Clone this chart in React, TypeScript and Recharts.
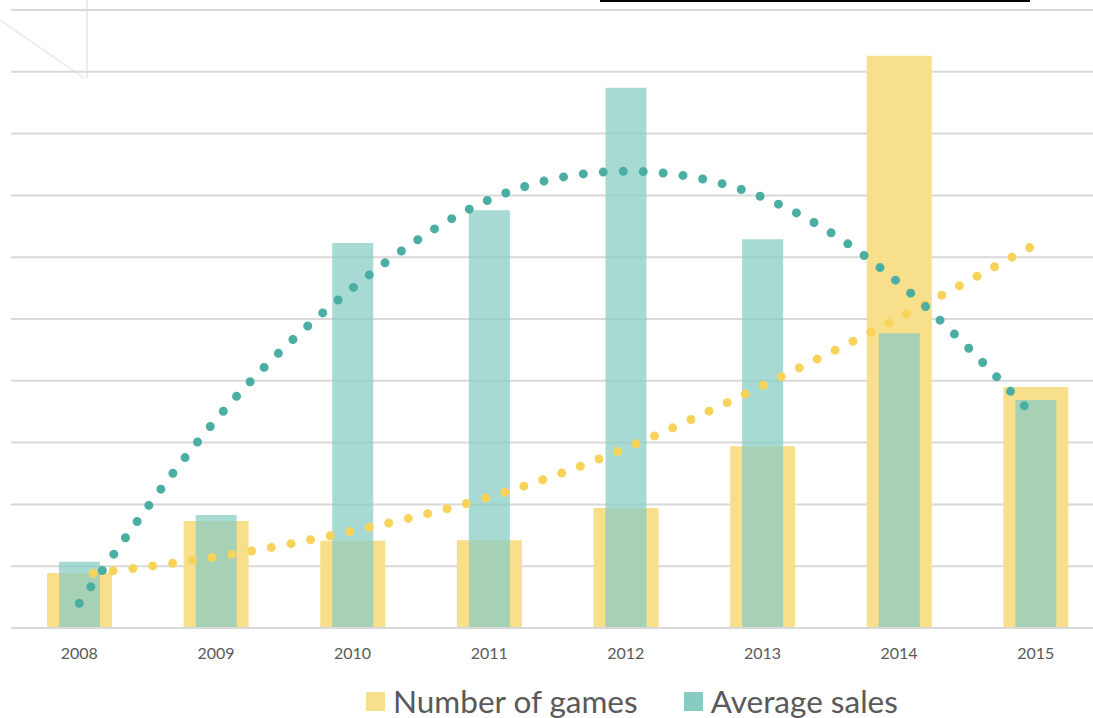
import React from "react"
import {
  ComposedChart,
  Bar,
  Line,
  XAxis,
  YAxis,
  CartesianGrid,
} from "recharts"

// chart values (one gridline = 1 unit)
const years = ["2008", "2009", "2010", "2011", "2012", "2013", "2014", "2015"]
const numberOfGames = [0.89, 1.73, 1.41, 1.42, 1.94, 2.94, 9.26, 3.9]
const averageSales = [1.07, 1.83, 6.23, 6.76, 8.74, 6.29, 4.77, 3.69]
const gamesTrend = [0.86, 1.15, 1.57, 2.12, 2.91, 3.92, 5.02, 6.21]
const salesTrend = [0.4, 3.37, 5.5, 6.93, 7.39, 6.97, 5.58, 3.4]
const yTicks = [0, 1, 2, 3, 4, 5, 6, 7, 8, 9, 10]

const YELLOW = "#F8DF8B"
const TEAL = "#86CCC3"
const TEAL_DOT = "#4BAEA3"
const YELLOW_DOT = "#F8D35A"
const FONT = "Lato, 'Noto Sans', sans-serif"

const data = years.map((year, i) => ({
  year,
  games: numberOfGames[i],
  sales: averageSales[i],
  gamesTrend: gamesTrend[i],
  salesTrend: salesTrend[i],
}))

const legendItems = [
  { label: "Number of games", color: YELLOW },
  { label: "Average sales", color: TEAL },
]

function ChartLegend() {
  return (
    <div
      style={{
        position: "absolute",
        left: 366,
        top: 682,
        display: "flex",
        alignItems: "center",
        fontFamily: FONT,
        whiteSpace: "nowrap",
      }}
    >
      {legendItems.map((item, i) => (
        <div
          key={item.label}
          style={{ display: "flex", alignItems: "center", marginLeft: i === 0 ? 0 : 46 }}
        >
          <span
            style={{ width: 19, height: 19, background: item.color, display: "inline-block", marginRight: 8 }}
          />
          <span style={{ fontSize: 31.5, color: "#595959", lineHeight: "38px" }}>{item.label}</span>
        </div>
      ))}
    </div>
  )
}

export default function App() {
  return (
    <div
      style={{
        position: "absolute",
        left: 0,
        top: 0,
        width: 1093,
        height: 718,
        overflow: "hidden",
        background: "#fff",
      }}
    >
      {/* faint decoration at top-left */}
      <svg width={120} height={100} style={{ position: "absolute", left: 0, top: 0 }}>
        <line x1={0} y1={20} x2={84} y2={78} stroke="#EDEDED" strokeWidth={2} />
        <line x1={87} y1={0} x2={87} y2={78} stroke="#EDEDED" strokeWidth={2} />
      </svg>

      {/* title, mostly cut off above the page */}
      <div
        style={{
          position: "absolute",
          right: 496,
          top: -29,
          fontFamily: "'Liberation Sans', sans-serif",
          fontSize: 26,
          color: "#000",
          whiteSpace: "nowrap",
          lineHeight: "30px",
        }}
      >
        Number of games, sales per year for strategy
      </div>
      <div
        style={{
          position: "absolute",
          left: 600,
          top: 0,
          width: 430,
          height: 0,
          borderTop: "2px solid #000",
        }}
      />

      <ComposedChart
        width={1104}
        height={718}
        data={data}
        margin={{ top: 10, right: 0, bottom: 60, left: 11 }}
        style={{ position: "absolute", left: 0, top: 0 }}
      >
        <CartesianGrid vertical={false} stroke="#D9D9D9" strokeWidth={2} />
        <XAxis
          dataKey="year"
          xAxisId="games"
          height={30}
          axisLine={{ stroke: "#D9D9D9", strokeWidth: 2 }}
          tickLine={false}
          tick={{ fill: "#595959", fontSize: 16, fontFamily: FONT }}
          tickMargin={14}
        />
        <XAxis dataKey="year" xAxisId="sales" hide />
        <YAxis domain={[0, 10]} ticks={yTicks} hide />
        <Bar
          dataKey="games"
          xAxisId="games"
          fill={YELLOW}
          barSize={65}
          isAnimationActive={false}
        />
        <Bar
          dataKey="sales"
          xAxisId="sales"
          fill={TEAL}
          fillOpacity={0.72}
          barSize={41}
          isAnimationActive={false}
        />
        <Line
          dataKey="gamesTrend"
          xAxisId="games"
          type="natural"
          stroke={YELLOW_DOT}
          strokeWidth={9}
          strokeLinecap="round"
          strokeDasharray="0 20"
          strokeDashoffset={-14}
          dot={false}
          activeDot={false}
          isAnimationActive={false}
        />
        <Line
          dataKey="salesTrend"
          xAxisId="games"
          type="natural"
          stroke={TEAL_DOT}
          strokeWidth={9}
          strokeLinecap="round"
          strokeDasharray="0 20"
          dot={false}
          activeDot={false}
          isAnimationActive={false}
        />
      </ComposedChart>
      <ChartLegend />
    </div>
  )
}
